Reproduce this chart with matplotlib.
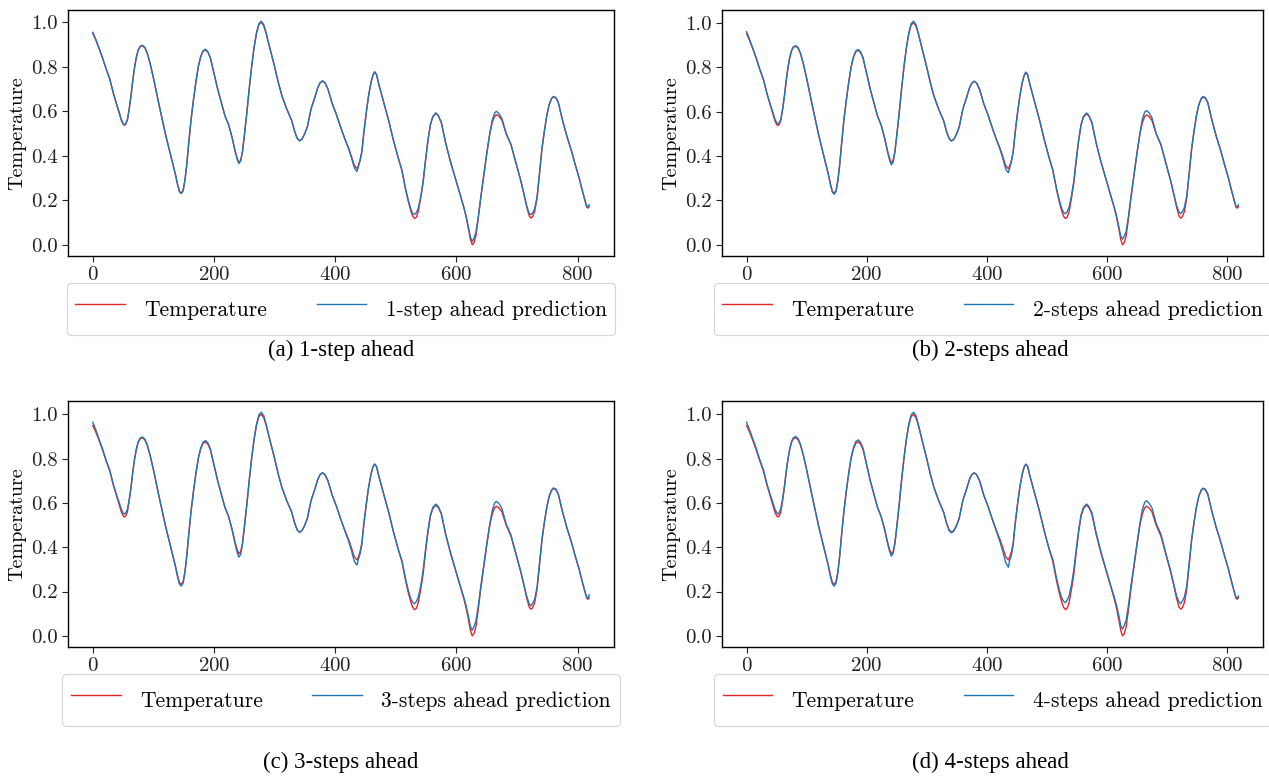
import os
import matplotlib
matplotlib.use("Agg")
import matplotlib.pyplot as plt
from matplotlib import font_manager

# Computer Modern shipped with matplotlib
cm_path = os.path.join(matplotlib.get_data_path(), "fonts", "ttf", "cmr10.ttf")
font_manager.fontManager.addfont(cm_path)
plt.rcParams['font.family'] = ['cmr10', 'DejaVu Serif']
plt.rcParams['mathtext.fontset'] = 'cm'
plt.rcParams['axes.formatter.use_mathtext'] = True

# time index of the sampled test points
time = [0, 5, 10, 16, 22, 28, 34, 40, 44, 47, 50, 52, 54, 57, 60,
        63, 66, 69, 72, 75, 78, 82, 86, 90,
        95, 100, 110, 120, 130, 136, 140, 143, 146, 149, 152,
        155, 158, 162, 166, 170, 174, 178, 182, 186, 190, 194,
        200, 206, 212, 218, 224, 230, 235, 238, 241, 244, 247,
        250, 254, 258, 262, 266, 270, 274, 278, 282, 286,
        292, 300, 306, 312, 320, 328, 333, 337, 341, 345, 349,
        354, 360, 366, 371, 375, 379, 383, 388,
        395, 402, 410, 416, 422, 427, 431, 434, 436,
        438, 441, 444, 447, 451, 455, 459, 462, 465, 468,
        472, 480, 488, 496, 504, 510, 516, 521, 525, 528, 531, 534, 537,
        541, 545, 549, 553, 557, 561, 566, 570, 575,
        582, 590, 598, 606, 612, 616, 620, 623, 626, 629, 632,
        636, 640, 645, 650, 655, 659, 663, 666, 670, 675,
        682, 690, 698, 706, 712, 716, 720, 723, 726, 729,
        733, 737, 741, 745, 749, 753, 757, 760, 764, 768,
        775, 782, 790, 796, 802, 808, 812, 815, 817, 819]

# normalised measured temperature
temperature = [
    0.95, 0.92, 0.885, 0.84, 0.79, 0.745, 0.68, 0.625, 0.59, 0.56, 0.542, 0.537, 0.54, 0.56, 0.61,
    0.67, 0.74, 0.80, 0.845, 0.875, 0.89, 0.894, 0.885, 0.86,
    0.81, 0.75, 0.62, 0.495, 0.385, 0.32, 0.27, 0.24, 0.233, 0.245, 0.29,
    0.36, 0.45, 0.56, 0.65, 0.73, 0.80, 0.845, 0.87, 0.876, 0.865, 0.84,
    0.77, 0.70, 0.64, 0.58, 0.54, 0.48, 0.42, 0.39, 0.37, 0.38, 0.42,
    0.49, 0.59, 0.70, 0.80, 0.885, 0.95, 0.99, 1.0, 0.985, 0.95,
    0.885, 0.80, 0.73, 0.67, 0.61, 0.56, 0.51, 0.48, 0.468, 0.475, 0.495,
    0.53, 0.61, 0.66, 0.705, 0.728, 0.736, 0.728, 0.70,
    0.635, 0.585, 0.52, 0.475, 0.435, 0.395, 0.36, 0.348, 0.343,
    0.355, 0.38, 0.42, 0.50, 0.59, 0.67, 0.73, 0.76, 0.775, 0.765,
    0.72, 0.64, 0.56, 0.47, 0.39, 0.335, 0.25, 0.19, 0.15, 0.128, 0.118, 0.125, 0.15,
    0.21, 0.28, 0.38, 0.47, 0.54, 0.575, 0.59, 0.58, 0.55,
    0.46, 0.375, 0.30, 0.225, 0.17, 0.125, 0.07, 0.025, 0.0, 0.01, 0.04,
    0.12, 0.21, 0.31, 0.41, 0.50, 0.55, 0.578, 0.585, 0.578, 0.56,
    0.50, 0.45, 0.37, 0.29, 0.22, 0.17, 0.13, 0.12, 0.128, 0.15,
    0.21, 0.32, 0.43, 0.51, 0.58, 0.63, 0.657, 0.665, 0.66, 0.64,
    0.56, 0.49, 0.42, 0.36, 0.305, 0.24, 0.2, 0.17, 0.165, 0.172]

# model predictions for each horizon
pred_1 = [
    0.955, 0.923, 0.885, 0.84, 0.79, 0.745, 0.68, 0.625, 0.592, 0.563, 0.545, 0.54, 0.543, 0.562, 0.61,
    0.67, 0.74, 0.80, 0.845, 0.876, 0.892, 0.897, 0.887, 0.86,
    0.81, 0.75, 0.62, 0.495, 0.385, 0.32, 0.268, 0.238, 0.23, 0.243, 0.29,
    0.36, 0.45, 0.56, 0.65, 0.73, 0.80, 0.846, 0.872, 0.879, 0.867, 0.84,
    0.77, 0.70, 0.64, 0.58, 0.54, 0.48, 0.418, 0.386, 0.365, 0.377, 0.42,
    0.49, 0.59, 0.70, 0.80, 0.885, 0.952, 0.994, 1.005, 0.99, 0.952,
    0.885, 0.80, 0.73, 0.67, 0.61, 0.56, 0.51, 0.479, 0.467, 0.475, 0.495,
    0.53, 0.61, 0.66, 0.705, 0.728, 0.737, 0.729, 0.70,
    0.635, 0.585, 0.52, 0.475, 0.432, 0.39, 0.35, 0.335, 0.33,
    0.35, 0.38, 0.42, 0.50, 0.59, 0.67, 0.73, 0.762, 0.778, 0.767,
    0.72, 0.64, 0.56, 0.47, 0.39, 0.335, 0.252, 0.195, 0.158, 0.14, 0.137, 0.145, 0.165,
    0.215, 0.285, 0.38, 0.47, 0.54, 0.577, 0.593, 0.582, 0.55,
    0.46, 0.375, 0.30, 0.225, 0.17, 0.128, 0.075, 0.035, 0.015, 0.03, 0.055,
    0.125, 0.21, 0.31, 0.41, 0.50, 0.56, 0.593, 0.60, 0.59, 0.568,
    0.50, 0.45, 0.37, 0.29, 0.222, 0.175, 0.142, 0.135, 0.145, 0.162,
    0.215, 0.32, 0.43, 0.51, 0.58, 0.63, 0.658, 0.667, 0.662, 0.64,
    0.56, 0.49, 0.42, 0.36, 0.305, 0.24, 0.2, 0.172, 0.172, 0.18]

pred_2 = [
    0.96, 0.925, 0.888, 0.842, 0.79, 0.745, 0.68, 0.627, 0.595, 0.567, 0.55, 0.545, 0.548, 0.565, 0.612,
    0.67, 0.74, 0.80, 0.845, 0.876, 0.892, 0.897, 0.887, 0.86,
    0.81, 0.75, 0.62, 0.495, 0.383, 0.318, 0.266, 0.236, 0.228, 0.24, 0.288,
    0.36, 0.45, 0.56, 0.65, 0.73, 0.80, 0.847, 0.873, 0.88, 0.868, 0.842,
    0.77, 0.70, 0.64, 0.58, 0.54, 0.478, 0.415, 0.382, 0.36, 0.372, 0.418,
    0.49, 0.59, 0.70, 0.80, 0.886, 0.953, 0.996, 1.007, 0.992, 0.953,
    0.886, 0.80, 0.73, 0.67, 0.61, 0.56, 0.51, 0.479, 0.467, 0.475, 0.495,
    0.53, 0.61, 0.66, 0.705, 0.728, 0.737, 0.729, 0.70,
    0.635, 0.585, 0.52, 0.474, 0.43, 0.387, 0.345, 0.33, 0.325,
    0.345, 0.375, 0.42, 0.50, 0.59, 0.67, 0.73, 0.762, 0.778, 0.767,
    0.72, 0.64, 0.56, 0.47, 0.39, 0.337, 0.255, 0.198, 0.162, 0.145, 0.14, 0.15, 0.17,
    0.22, 0.29, 0.385, 0.472, 0.542, 0.578, 0.594, 0.583, 0.552,
    0.46, 0.375, 0.30, 0.225, 0.172, 0.13, 0.08, 0.04, 0.025, 0.04, 0.06,
    0.13, 0.215, 0.315, 0.412, 0.502, 0.565, 0.598, 0.605, 0.595, 0.572,
    0.502, 0.452, 0.37, 0.29, 0.224, 0.178, 0.148, 0.14, 0.15, 0.168,
    0.22, 0.322, 0.43, 0.51, 0.58, 0.63, 0.659, 0.668, 0.663, 0.641,
    0.56, 0.49, 0.42, 0.36, 0.305, 0.24, 0.2, 0.172, 0.172, 0.18]

pred_3 = [
    0.965, 0.93, 0.89, 0.845, 0.792, 0.747, 0.682, 0.63, 0.598, 0.572, 0.555, 0.55, 0.553, 0.57, 0.615,
    0.67, 0.74, 0.80, 0.845, 0.877, 0.893, 0.898, 0.888, 0.86,
    0.81, 0.75, 0.62, 0.495, 0.382, 0.316, 0.263, 0.233, 0.225, 0.238, 0.285,
    0.36, 0.45, 0.56, 0.652, 0.732, 0.802, 0.848, 0.875, 0.882, 0.87, 0.844,
    0.772, 0.70, 0.64, 0.58, 0.538, 0.476, 0.412, 0.378, 0.355, 0.368, 0.414,
    0.488, 0.59, 0.70, 0.80, 0.887, 0.955, 0.998, 1.01, 0.995, 0.955,
    0.887, 0.80, 0.73, 0.67, 0.61, 0.56, 0.51, 0.479, 0.467, 0.475, 0.495,
    0.53, 0.61, 0.66, 0.705, 0.728, 0.737, 0.729, 0.70,
    0.635, 0.585, 0.52, 0.473, 0.428, 0.383, 0.34, 0.325, 0.32,
    0.345, 0.37, 0.415, 0.50, 0.59, 0.67, 0.73, 0.762, 0.776, 0.766,
    0.72, 0.64, 0.56, 0.47, 0.39, 0.34, 0.258, 0.2, 0.165, 0.15, 0.145, 0.155, 0.175,
    0.225, 0.295, 0.39, 0.475, 0.545, 0.58, 0.595, 0.584, 0.554,
    0.462, 0.377, 0.302, 0.228, 0.175, 0.135, 0.085, 0.042, 0.025, 0.042, 0.065,
    0.135, 0.22, 0.318, 0.415, 0.505, 0.565, 0.60, 0.607, 0.598, 0.575,
    0.505, 0.455, 0.372, 0.292, 0.222, 0.178, 0.145, 0.135, 0.148, 0.165,
    0.22, 0.325, 0.432, 0.512, 0.58, 0.63, 0.659, 0.668, 0.663, 0.641,
    0.56, 0.49, 0.42, 0.36, 0.305, 0.24, 0.2, 0.172, 0.17, 0.185]

pred_4 = [
    0.965, 0.93, 0.892, 0.847, 0.795, 0.75, 0.685, 0.632, 0.6, 0.574, 0.557, 0.55, 0.555, 0.575, 0.62,
    0.675, 0.742, 0.80, 0.847, 0.878, 0.895, 0.9, 0.89, 0.862,
    0.81, 0.75, 0.62, 0.495, 0.382, 0.316, 0.263, 0.233, 0.225, 0.238, 0.285,
    0.36, 0.45, 0.56, 0.655, 0.735, 0.805, 0.85, 0.878, 0.885, 0.873, 0.846,
    0.773, 0.70, 0.64, 0.58, 0.538, 0.478, 0.415, 0.383, 0.36, 0.372, 0.417,
    0.488, 0.59, 0.70, 0.80, 0.887, 0.955, 0.998, 1.01, 0.995, 0.955,
    0.887, 0.80, 0.73, 0.67, 0.61, 0.558, 0.508, 0.476, 0.465, 0.473, 0.493,
    0.53, 0.61, 0.66, 0.705, 0.728, 0.736, 0.728, 0.70,
    0.635, 0.585, 0.52, 0.472, 0.425, 0.378, 0.335, 0.318, 0.31,
    0.34, 0.365, 0.41, 0.50, 0.59, 0.67, 0.73, 0.762, 0.775, 0.766,
    0.72, 0.64, 0.56, 0.47, 0.39, 0.345, 0.262, 0.205, 0.17, 0.155, 0.15, 0.162, 0.18,
    0.23, 0.3, 0.392, 0.477, 0.547, 0.58, 0.595, 0.585, 0.556,
    0.465, 0.38, 0.305, 0.23, 0.178, 0.138, 0.09, 0.047, 0.03, 0.048, 0.07,
    0.14, 0.225, 0.32, 0.418, 0.508, 0.57, 0.603, 0.61, 0.60, 0.578,
    0.508, 0.458, 0.375, 0.295, 0.226, 0.18, 0.153, 0.145, 0.158, 0.175,
    0.225, 0.328, 0.432, 0.512, 0.58, 0.63, 0.658, 0.667, 0.662, 0.641,
    0.56, 0.49, 0.42, 0.36, 0.305, 0.24, 0.2, 0.172, 0.17, 0.18]

predictions = [pred_1, pred_2, pred_3, pred_4]
pred_labels = ["1-step ahead prediction", "2-steps ahead prediction",
               "3-steps ahead prediction", "4-steps ahead prediction"]
captions = ["(a) 1-step ahead", "(b) 2-steps ahead",
            "(c) 3-steps ahead", "(d) 4-steps ahead"]

W, H = 1269, 781
fig = plt.figure(figsize=(W / 100, H / 100), dpi=100)

# axes boxes in pixels: left, top, right, bottom
boxes = [(68, 10, 614, 256), (722, 10, 1263, 256),
         (68, 401, 614, 647), (722, 401, 1263, 647)]
caption_pos = [(341, 350), (990, 350), (341, 762), (990, 762)]

for i, (l, t, r, b) in enumerate(boxes):
    ax = fig.add_axes([l / W, 1 - b / H, (r - l) / W, (b - t) / H])
    ax.plot(time, temperature, color='#e3262a', lw=1.0, label="Temperature")
    ax.plot(time, predictions[i], color='#1f77b4', lw=1.0, label=pred_labels[i])
    ax.set_xticks([0, 200, 400, 600, 800])
    ax.set_yticks([0.0, 0.2, 0.4, 0.6, 0.8, 1.0])
    ax.set_yticklabels(["0.0", "0.2", "0.4", "0.6", "0.8", "1.0"])
    ax.tick_params(labelsize=15, colors='#222222', length=4)
    ax.set_ylabel("Temperature", fontsize=14.5, labelpad=3)
    for s in ax.spines.values():
        s.set_linewidth(1.0)
    leg = ax.legend(loc='upper center', bbox_to_anchor=(0.5, -0.11),
                    ncol=2, fontsize=15.5, frameon=True, borderaxespad=0,
                    borderpad=0.4, handleheight=2.1, handlelength=2.3,
                    handletextpad=0.9, columnspacing=2.3)
    leg.get_frame().set_linewidth(0.8)
    cx, cy = caption_pos[i]
    fig.text(cx / W, 1 - cy / H, captions[i], ha='center', va='center',
             fontsize=16.5, family='Liberation Serif')

fig.savefig("out.png", dpi=100)
